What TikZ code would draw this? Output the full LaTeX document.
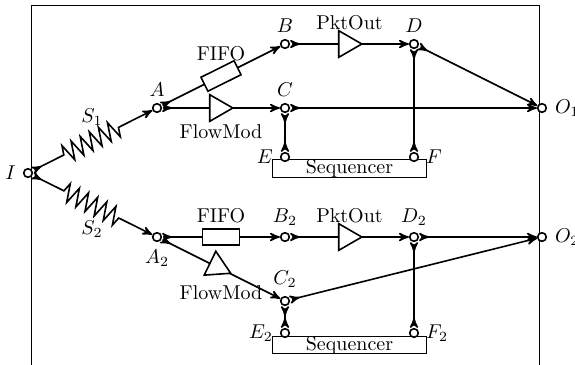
\documentclass[tikz,border=0pt]{standalone}
\usetikzlibrary{arrows,calc,decorations.pathmorphing,shapes.geometric}
\tikzset{
    port/.style={draw,circle,thick,fill=white,inner sep=0pt,minimum size=4.3pt},
    wire/.style={thick,>=stealth'},
    fifobox/.style={draw,thick,fill=white,rectangle,inner sep=0pt,minimum width=18.5pt,minimum height=7.8pt},
    gain/.style={draw,thick,fill=white,isosceles triangle,isosceles triangle apex angle=60,inner sep=0pt,
        minimum height=11.5pt,anchor=lower side},
    seqbox/.style={draw,line width=0.5pt,fill=white,rectangle,inner sep=0pt,minimum width=77.2pt,minimum height=8pt},
    spring/.style={decorate,decoration={zigzag,segment length=5.1pt,amplitude=4.6pt,pre length=17.5pt,post length=18.2pt}}
}
\begin{document}
\begin{tikzpicture}[x=0.5pt,y=-0.5pt]
    \useasboundingbox (0,0) rectangle (575,365);
    \draw[line width=0.5pt] (31.5,365) -- (31.5,5.5) -- (539.5,5.5) -- (539.5,365);

    \node[seqbox] (Q) at (349.5,168.3) {\raisebox{-1pt}{Sequencer}};
    \node[seqbox] (Q2) at (349.5,345) {\raisebox{-1pt}{Sequencer}};

    \node[port,label=left:$I$] (I) at (28,173) {};
    \node[port,label={[yshift=-0.5pt]above:$A$}] (A) at (157,108) {};
    \node[port,label={[yshift=-0.5pt]above:$B$}] (B) at (285,44) {};
    \node[port,label={[yshift=-0.5pt]above:$C$}] (C) at (285,108) {};
    \node[port,label={[yshift=-0.5pt]above:$D$}] (D) at (414,44) {};
    \node[port,label={[xshift=0.5pt]right:$O_1$}] (O) at (542,108) {};
    \node[port,label=left:$E$] (E) at (285,157) {};
    \node[port,label=right:$F$] (F) at (414,157) {};

    \node[port,label={[yshift=-0.5pt]below:$A_2$}] (A2) at (157,237) {};
    \node[port,label={[yshift=-0.5pt]above:$B_2$}] (B2) at (285,237) {};
    \node[port,label={[yshift=0.5pt]above:$C_2$}] (C2) at (285,301) {};
    \node[port,label={[yshift=-0.5pt]above:$D_2$}] (D2) at (414,237) {};
    \node[port,label={[xshift=0.5pt]right:$O_2$}] (O2) at (542,237) {};
    \node[port,label=left:$E_2$] (E2) at (285,333) {};
    \node[port,label=right:$F_2$] (F2) at (414,333) {};

    \draw[wire,spring,>->] (I) -- (A);
    \draw[wire,spring,>->] (I) -- (A2);

    \draw[wire,>->] (A) -- (B);
    \draw[wire,>->] (A) -- (C);
    \draw[wire,>->] (B) -- (D);
    \draw[wire,>->] (C) -- (O);
    \draw[wire,>->] (D) -- (O);
    \draw[wire,>-<] (C) -- (E);
    \draw[wire,>-<] (D) -- (F);

    \draw[wire,>->] (A2) -- (B2);
    \draw[wire,>->] (A2) -- (C2);
    \draw[wire,>->] (B2) -- (D2);
    \draw[wire,>->] (C2) -- (O2);
    \draw[wire,>->] (D2) -- (O2);
    \draw[wire,>-<] (C2) -- (E2);
    \draw[wire,>-<] (D2) -- (F2);

    \node[fifobox,rotate=26.5] (P) at ($(A)!0.5!(B)$) {};
    \node[fifobox] (P2) at ($(A2)!0.5!(B2)$) {};
    \node[gain] (T) at (209,108) {};
    \node[gain] (U) at (338,44) {};
    \node[gain] (U2) at (338,237) {};
    \node[gain,rotate=94] (T2) at (217.5,275) {};

    \node (fifolabel) at (221,54) {FIFO};
    \node (fifolabel2) at (221,215.5) {FIFO};
    \node (pktlabel) at (349.5,23) {PktOut};
    \node (pktlabel2) at (349.5,215.5) {PktOut};
    \node (flowlabel) at (221,132) {FlowMod};
    \node (flowlabel2) at (221,292.5) {FlowMod};
    \node (slabel) at (92,117) {$S_1$};
    \node (slabel2) at (92,229) {$S_2$};
\end{tikzpicture}
\end{document}
